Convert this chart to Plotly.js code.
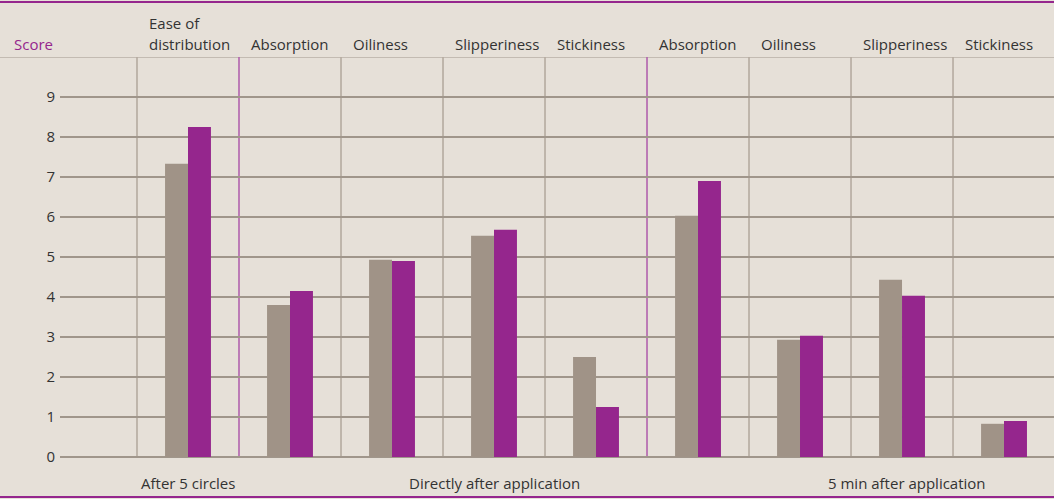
<!DOCTYPE html>
<html>
<head>
<meta charset="utf-8">
<script src="https://cdn.plot.ly/plotly-3.0.1.min.js"></script>
<style>html,body{margin:0;padding:0;background:#E6E0D8;}#chart{width:1054px;height:499px;}</style>
</head>
<body>
<div id="chart"></div>
<script>
const categories = ["Ease of distribution","Absorption","Oiliness","Slipperiness","Stickiness","Absorption","Oiliness","Slipperiness","Stickiness"];
const seriesGray = [7.33, 3.8, 4.93, 5.53, 2.5, 6.03, 2.93, 4.43, 0.83];
const seriesPurple = [8.25, 4.15, 4.9, 5.68, 1.25, 6.9, 3.03, 4.03, 0.9];
const yTicks = [0,1,2,3,4,5,6,7,8,9];
const groupLabels = ["After 5 circles","Directly after application","5 min after application"];
const groupLabelPos = [0, 3, 7.05];
const purpleSeparators = [0.5, 4.5];

const xs = categories.map((c,i)=>i);
const BG = '#E6E0D8', GRAY = '#A09387', PURPLE = '#95268D', TXT = '#333333';
const FONT = 'Open Sans, Noto Sans, sans-serif';
const FS = 15;

const traces = [
  {type:'bar', x:xs, y:seriesGray, marker:{color:GRAY, line:{width:0}}, hoverinfo:'skip', showlegend:false},
  {type:'bar', x:xs, y:seriesPurple, marker:{color:PURPLE, line:{width:0}}, hoverinfo:'skip', showlegend:false}
];

const shapes = [];
for (let i = 0; i < categories.length; i++) {
  const xv = i - 0.5;
  const isP = purpleSeparators.includes(xv);
  shapes.push({type:'line', xref:'x', yref:'y', x0:xv, x1:xv, y0:0, y1:10, layer:'below',
    line:{color: isP ? '#B262AE' : '#B5ABA0', width:1.6}});
}
shapes.push({type:'line', xref:'paper', yref:'y', x0:-60/994, x1:1, y0:10, y1:10, layer:'below', line:{color:'#A0968B', width:1.2}});
shapes.push({type:'line', xref:'paper', yref:'paper', x0:-60/994, x1:1, y0:1.1375, y1:1.1375, line:{color:PURPLE, width:2}});
shapes.push({type:'line', xref:'paper', yref:'paper', x0:-60/994, x1:1, y0:-0.1, y1:-0.1, line:{color:PURPLE, width:2}});

const annotations = [];
categories.forEach((c,i)=>{
  if (c === 'Ease of distribution') {
    annotations.push({xref:'x', yref:'paper', x:i-0.5, xshift:10, y:1+(57-23)/400, xanchor:'left', yanchor:'middle', text:'Ease of', showarrow:false, font:{family:FONT, size:FS, color:TXT}});
    annotations.push({xref:'x', yref:'paper', x:i-0.5, xshift:10, y:1+(57-44)/400, xanchor:'left', yanchor:'middle', text:'distribution', showarrow:false, font:{family:FONT, size:FS, color:TXT}});
  } else {
    annotations.push({xref:'x', yref:'paper', x:i-0.5, xshift:10, y:1+(57-44)/400, xanchor:'left', yanchor:'middle', text:c, showarrow:false, font:{family:FONT, size:FS, color:TXT}});
  }
});
groupLabels.forEach((g,k)=>{
  annotations.push({xref:'x', yref:'paper', x:groupLabelPos[k], y:(457-483)/400, xanchor:'center', yanchor:'middle', text:g, showarrow:false, font:{family:FONT, size:FS, color:TXT}});
});
annotations.push({xref:'paper', yref:'paper', x:(33-60)/994, y:1+(57-44)/400, xanchor:'center', yanchor:'middle', text:'Score', showarrow:false, font:{family:FONT, size:FS, color:PURPLE}});

const layout = {
  width:1054, height:499,
  margin:{l:60, r:0, t:57, b:42, pad:0},
  paper_bgcolor:BG, plot_bgcolor:BG,
  barmode:'group', bargap:0.55, bargroupgap:0,
  showlegend:false,
  xaxis:{type:'linear', range:[-1.2549, 8.490], showgrid:false, zeroline:false, showticklabels:false, ticks:'', fixedrange:true},
  yaxis:{range:[0,10], tickvals:yTicks, ticktext:yTicks.map(String), showgrid:true, gridcolor:'#A0968B', gridwidth:1.2,
    zeroline:true, zerolinecolor:'#A0968B', zerolinewidth:1.6, ticks:'', ticklabelstandoff:4,
    tickfont:{family:FONT, size:FS, color:TXT}, fixedrange:true},
  shapes:shapes, annotations:annotations
};
Plotly.newPlot('chart', traces, layout, {displayModeBar:false, staticPlot:true});
</script>
</body>
</html>
